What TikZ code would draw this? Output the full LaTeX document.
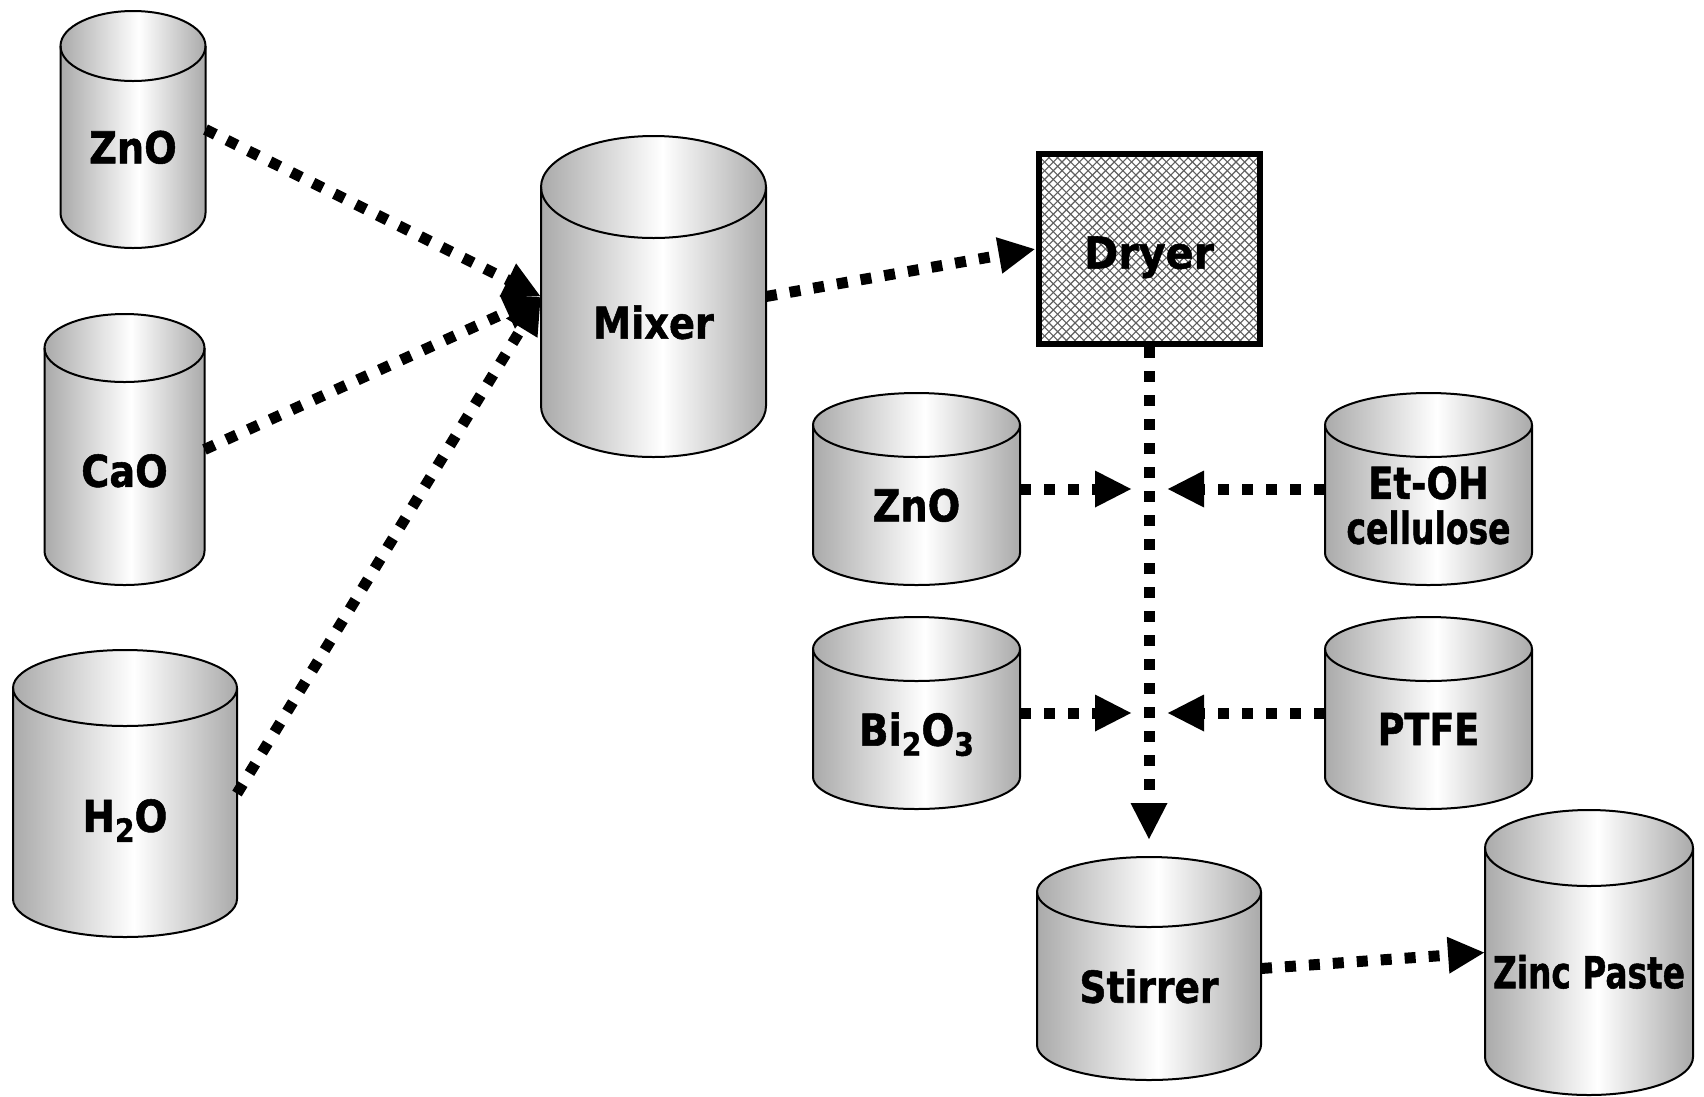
\documentclass[tikz,border=0pt]{standalone}
\usepackage{fontspec}
\usepackage{graphicx}
\usetikzlibrary{arrows.meta,calc}
\newfontfamily\lblfont{DejaVu Sans}[BoldFeatures={FakeBold=1.2}]

\definecolor{cangray}{RGB}{170,170,170}
\definecolor{hatchgray}{RGB}{95,95,95}
% light band slightly right of the middle, grey towards both sides
\pgfdeclarehorizontalshading{canshade}{100bp}{color(0bp)=(cangray); color(25bp)=(cangray); color(52bp)=(white); color(75bp)=(cangray); color(100bp)=(cangray)}

\newcommand\chemsub[1]{\raisebox{-10pt}{\fontsize{32}{32}\selectfont #1}}

\tikzset{
  canbox/.style={rectangle, inner sep=0pt, outer sep=0pt, draw=none},
  canline/.style={draw=black, line width=2pt},
  cantext/.style={font=\lblfont\bfseries\fontsize{44}{45}\selectfont, inner sep=0pt, text depth=0pt, align=center},
  conn/.style={line width=11pt, dash pattern=on 11pt off 13pt, -{Triangle[length=37pt,width=34pt]}},
  hatchline/.style={draw=hatchgray, line width=1.1pt},
}

% [#1 label shift down], #2 name, #3 centre x, #4 top y, #5 bottom y,
% #6 x radius, #7 y radius of the ends, #8 label
\newcommand\drawcan[8][0]{%
  \node[canbox, minimum width={2*#6}, minimum height={#5-#4}] (#2) at ({#3},{-(#4+#5)/2}) {};
  \shade[shading=canshade] ({#3-#6},{-(#4+#7)}) -- ({#3-#6},{-(#5-#7)})
     arc[start angle=180, end angle=360, x radius=#6, y radius=#7]
     -- ({#3+#6},{-(#4+#7)})
     arc[start angle=0, end angle=180, x radius=#6, y radius=#7] -- cycle;
  \shade[shading=canshade] ({#3},{-(#4+#7)}) ellipse[x radius=#6, y radius=#7];
  \draw[canline] ({#3-#6},{-(#4+#7)}) -- ({#3-#6},{-(#5-#7)})
     arc[start angle=180, end angle=360, x radius=#6, y radius=#7]
     -- ({#3+#6},{-(#4+#7)});
  \draw[canline] ({#3},{-(#4+#7)}) ellipse[x radius=#6, y radius=#7];
  \node[cantext] (#2-label) at ({#3},{-(#4+#7+#5)/2-#1}) {#8};
}

\begin{document}
\begin{tikzpicture}[x=1pt, y=1pt]
\useasboundingbox[fill=white] (0,0) rectangle (1704,-1096);

% raw materials for the mixer
\drawcan{zno1}{133}{11}{248}{72.5}{35}{\scalebox{0.87}[1]{ZnO}}
\drawcan[4]{cao}{124.5}{314}{585}{80}{34}{\scalebox{0.87}[1]{CaO}}
\drawcan[3]{h2o}{125}{650}{937}{112}{38}{\scalebox{0.88}[1]{H\chemsub{2}O}}
\drawcan{mixer}{653.5}{136}{457}{112.5}{51}{\scalebox{0.87}[1]{Mixer}}

% dryer with cross-hatched fill
\node[draw, line width=6pt, fill=white, minimum width=221pt, minimum height=190pt, inner sep=0pt,
      path picture={
        \foreach \i in {-45,...,45}{
          \draw[hatchline] ($(path picture bounding box.center)+(\i*8.7-170,-170)$) -- ++(340,340);
          \draw[hatchline] ($(path picture bounding box.center)+(\i*8.7-170,170)$) -- ++(340,-340);
        }
      }] (dryer) at (1149,-249) {};
\node[cantext] (dryer-label) at (1149,-252.5) {\scalebox{0.94}[1]{Dryer}};

% additives
\drawcan{zno2}{916.5}{393}{585}{103.5}{32}{\scalebox{0.87}[1]{ZnO}}
\drawcan{etoh}{1428.5}{393}{585}{103.5}{32}{\scalebox{0.84}[1]{Et-OH}\\\scalebox{0.75}[1]{cellulose}}
\drawcan{bi2o3}{916.5}{617}{809}{103.5}{32}{\scalebox{0.88}[1]{Bi\chemsub{2}O\chemsub{3}}}
\drawcan{ptfe}{1428.5}{617}{809}{103.5}{32}{\scalebox{0.83}[1]{PTFE}}

% final stages
\drawcan{stirrer}{1149}{857}{1080}{112}{35}{\scalebox{0.855}[1]{Stirrer}}
\drawcan{zinc}{1589}{810}{1095}{104}{38}{\scalebox{0.745}[1]{Zinc Paste}}

% merge points on the dryer-to-stirrer line
\coordinate (merge1) at (1149,-489);
\coordinate (merge2) at (1149,-713);

% connectors
\draw[conn] (zno1.east) -- (mixer.west);
\draw[conn] (cao.east) -- (mixer.west);
\draw[conn] (h2o.east) -- (mixer.west);
\draw[conn] (mixer.east) -- (dryer.west);
\draw[conn, shorten >=17pt] (dryer.south) -- (stirrer.north);
\draw[conn, shorten >=17pt] (zno2.east) -- (merge1);
\draw[conn, shorten >=18pt] (etoh.west) -- (merge1);
\draw[conn, shorten >=17pt] (bi2o3.east) -- (merge2);
\draw[conn, shorten >=18pt] (ptfe.west) -- (merge2);
\draw[conn] (stirrer.east) -- (zinc.west);
\end{tikzpicture}
\end{document}
